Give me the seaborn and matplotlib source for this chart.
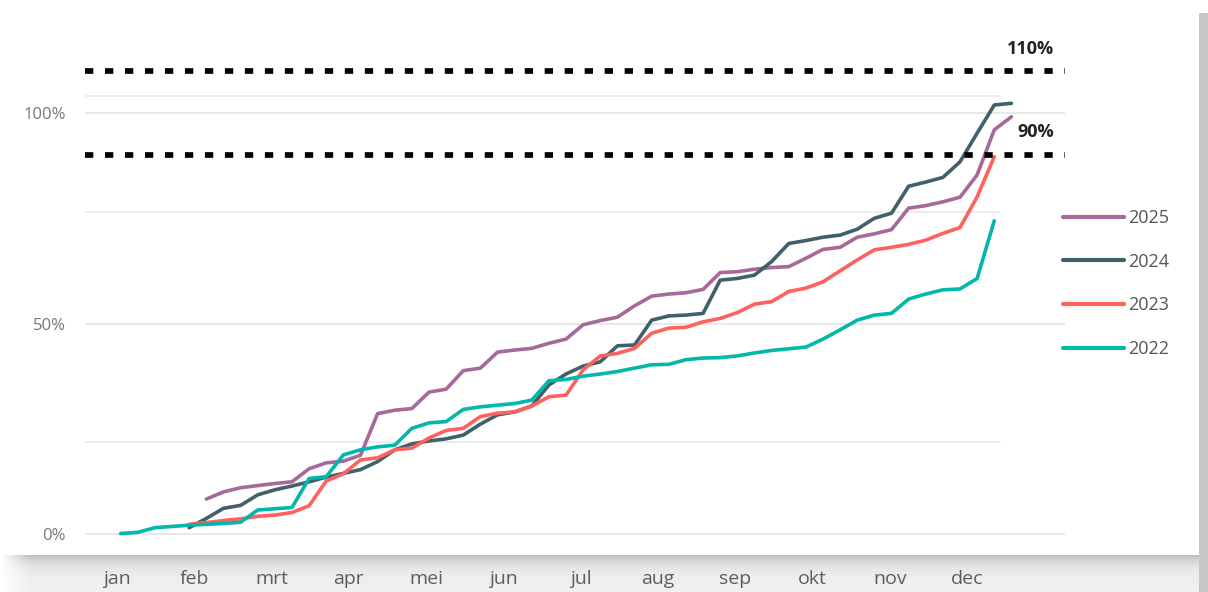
import numpy as np
import pandas as pd
import matplotlib
matplotlib.use("Agg")
import matplotlib.pyplot as plt
from matplotlib.lines import Line2D
import seaborn as sns

# ---------------- data ----------------
years = ["2025", "2024", "2023", "2022"]

weeks_2022 = list(range(1, 53))
values_2022 = [0.1, 0.4, 1.5, 1.8, 2.1, 2.3, 2.5, 2.8, 5.7, 6.0,
               6.3, 13.2, 13.6, 18.8, 20.0, 20.7, 21.1, 25.1, 26.4, 26.7,
               29.6, 30.2, 30.6, 31.0, 31.8, 36.4, 36.7, 37.5, 38.0, 38.6,
               39.4, 40.2, 40.3, 41.4, 41.8, 41.9, 42.3, 43.0, 43.6, 44.0,
               44.4, 46.3, 48.5, 50.8, 52.0, 52.4, 55.8, 57.0, 58.0, 58.2,
               60.7, 74.4]

weeks_2023 = list(range(5, 53))
values_2023 = [2.3, 2.7, 3.2, 3.6, 4.2, 4.5, 5.1, 6.7, 12.6, 14.3,
               17.6, 18.1, 20.0, 20.4, 22.8, 24.6, 25.1, 27.9, 28.7, 29.0,
               30.4, 32.6, 33.0, 39.0, 42.3, 42.9, 44.1, 47.7, 48.9, 49.1,
               50.4, 51.2, 52.6, 54.6, 55.2, 57.6, 58.4, 59.9, 62.5, 65.1,
               67.5, 68.1, 68.8, 69.8, 71.4, 72.8, 80.1, 89.6]

weeks_2024 = list(range(5, 54))
values_2024 = [1.5, 3.7, 6.1, 6.8, 9.3, 10.5, 11.4, 12.4, 13.5, 14.4,
               15.3, 17.2, 20.0, 21.4, 22.1, 22.6, 23.5, 26.1, 28.3, 29.0,
               30.4, 35.4, 38.0, 39.9, 40.9, 44.7, 44.9, 50.8, 51.8, 52.0,
               52.4, 60.3, 60.7, 61.5, 64.7, 69.0, 69.7, 70.5, 71.0, 72.4,
               75.0, 76.2, 82.6, 83.6, 84.7, 88.4, 95.2, 101.9, 102.3]

weeks_2025 = list(range(6, 54))
values_2025 = [8.3, 10.0, 11.0, 11.5, 12.0, 12.4, 15.5, 16.9, 17.3, 18.7,
               28.6, 29.4, 29.8, 33.7, 34.4, 38.8, 39.4, 43.2, 43.7, 44.1,
               45.3, 46.3, 49.7, 50.7, 51.5, 54.2, 56.5, 57.0, 57.3, 58.1,
               62.1, 62.3, 62.9, 63.3, 63.5, 65.5, 67.6, 68.1, 70.5, 71.3,
               72.3, 77.4, 78.0, 78.9, 80.0, 85.3, 96.0, 99.1]

month_labels = ["jan", "feb", "mrt", "apr", "mei", "jun",
                "jul", "aug", "sep", "okt", "nov", "dec"]
y_ticks = [0, 50, 100]
y_ticklabels = ["0%", "50%", "100%"]
main_grid = [0, 50, 100]
extra_grid = [21.9, 76.5, 104.1]
target_levels = [110, 90]
target_labels = ["110%", "90%"]

colors = {"2025": "#A66999", "2024": "#41606B",
          "2023": "#FD625E", "2022": "#01B8AA"}

frames = []
for yr, wk, val in [("2022", weeks_2022, values_2022),
                    ("2023", weeks_2023, values_2023),
                    ("2024", weeks_2024, values_2024),
                    ("2025", weeks_2025, values_2025)]:
    frames.append(pd.DataFrame({"week": wk, "pct": val, "year": yr}))
df = pd.concat(frames, ignore_index=True)

# ---------------- styling ----------------
sns.set_theme(style="white")
plt.rcParams["font.family"] = ["Open Sans", "DejaVu Sans"]

W, H = 1208, 592
fig = plt.figure(figsize=(W / 100, H / 100), dpi=100)

# card background with drop shadow
bg = fig.add_axes([0, 0, 1, 1], zorder=0)
img = np.ones((H, W, 3))
ys = np.arange(H)
shadow = ys >= 555
d = ys[shadow] - 555
img[shadow, :1200, :] = (0.95 - 0.20 * np.exp(-d / 9.0))[:, None, None]
xs = np.arange(W)
fade = np.clip(xs[:30] / 30.0, 0, 1)
img[shadow, :30, :] = 1 - (1 - img[shadow, :30, :]) * fade[None, :, None]
img[13:, 1199:, :] = 0.78
bg.imshow(img, extent=[0, W, H, 0], aspect="auto", interpolation="bilinear")
bg.set_axis_off()

ax = fig.add_axes([85 / W, 1 - 545 / H, 980 / W, 505 / H], zorder=1)
ax.patch.set_alpha(0)

for g in main_grid:
    ax.axhline(g, color="#e6e6e6", lw=1.3, zorder=0)
for g in extra_grid:
    ax.axhline(g, xmin=0, xmax=(1000 - 85) / 980, color="#ececec", lw=1.3, zorder=0)

sns.lineplot(data=df, x="week", y="pct", hue="year", hue_order=years,
             palette=colors, linewidth=2.6, ax=ax, sort=False,
             estimator=None, legend=False)
for ln in ax.get_lines():
    ln.set_solid_joinstyle("round")

for lvl in target_levels:
    ax.axhline(lvl, color="black", lw=4.1, linestyle=(0, (1.46, 2.05)), zorder=3)

fig.text(1030 / W, 1 - 49 / H, target_labels[0], ha="center", va="center",
         fontsize=13, fontweight="bold", color="#222222")
fig.text(1036 / W, 1 - 132 / H, target_labels[1], ha="center", va="center",
         fontsize=13, fontweight="bold", color="#222222")

ax.set_xlim(-1.084, 56.13)
ax.set_ylim(-2.61, 117.34)
xticks = 0.78 + 4.513 * np.arange(12)
ax.set_xticks(xticks, month_labels)
ax.set_yticks(y_ticks, y_ticklabels)
ax.tick_params(axis="x", length=0, pad=18, labelsize=14, labelcolor="#605E5C")
ax.tick_params(axis="y", length=0, pad=14, labelsize=12, labelcolor="#777777")
ax.set_xlabel("")
ax.set_ylabel("")
ax.grid(False)
sns.despine(ax=ax, left=True, bottom=True)

handles = [Line2D([], [], color=colors[y], lw=3) for y in years]
ax.legend(handles, years, loc="upper left",
          bbox_to_anchor=(1063 / W, 1 - 209 / H), bbox_transform=fig.transFigure,
          frameon=False, handlelength=3.4, handletextpad=0.2, labelspacing=1.42,
          borderpad=0, borderaxespad=0, fontsize=13, labelcolor="#555555")

fig.savefig("out.png", dpi=100)
